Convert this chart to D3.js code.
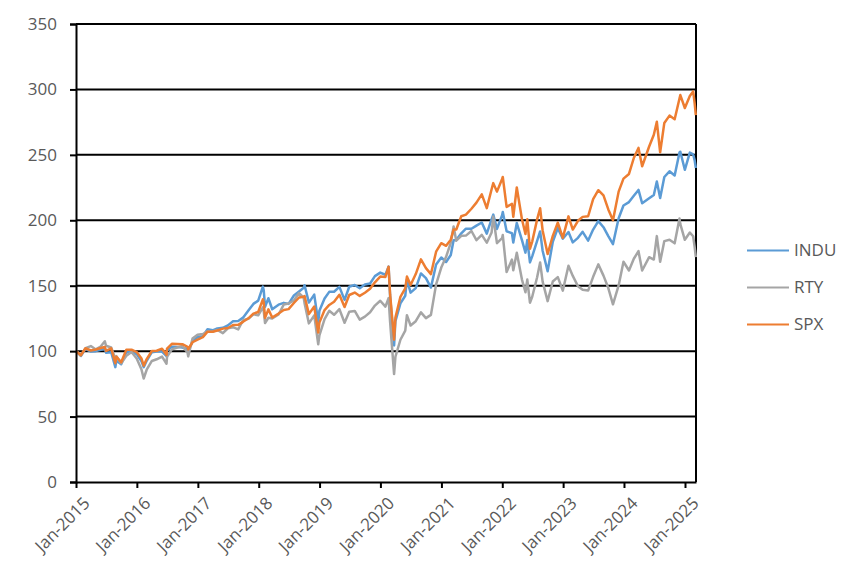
<!DOCTYPE html>
<html>
<head>
<meta charset="utf-8">
<script src="https://cdn.jsdelivr.net/npm/d3@7"></script>
<style>
  body { margin: 0; background: #fff; }
  text { font-family: "Open Sans", "Noto Sans", sans-serif; fill: #595959; }
</style>
</head>
<body>
<div id="chart"></div>
<script>
// observation dates (month ends plus a few turning points)
const dates = [
  "2015-01-02","2015-01-30","2015-02-27","2015-03-31","2015-04-30","2015-05-29","2015-06-23","2015-06-30",
  "2015-07-31","2015-08-25","2015-08-31","2015-09-29","2015-10-30","2015-11-30","2015-12-31",
  "2016-01-29","2016-02-11","2016-02-29","2016-03-31","2016-04-29","2016-05-31","2016-06-27","2016-06-30",
  "2016-07-29","2016-08-31","2016-09-30","2016-10-31","2016-11-04","2016-11-30","2016-12-30",
  "2017-01-31","2017-02-28","2017-03-31","2017-04-28","2017-05-31","2017-06-30","2017-07-31","2017-08-31",
  "2017-09-29","2017-10-31","2017-11-30","2017-12-29",
  "2018-01-26","2018-01-31","2018-02-08","2018-02-28","2018-03-23","2018-04-30","2018-05-31","2018-06-29",
  "2018-07-31","2018-08-31","2018-09-28","2018-10-03","2018-10-29","2018-11-30","2018-12-24","2018-12-31",
  "2019-01-31","2019-02-28","2019-03-29","2019-04-30","2019-05-31","2019-06-28","2019-07-31","2019-08-30",
  "2019-09-30","2019-10-31","2019-11-29","2019-12-31",
  "2020-01-31","2020-02-19","2020-02-28","2020-03-23","2020-03-31","2020-04-30","2020-05-29","2020-06-08",
  "2020-06-30","2020-07-31","2020-08-31","2020-09-30","2020-10-30","2020-11-30","2020-12-31",
  "2021-01-29","2021-02-26","2021-03-15","2021-03-31","2021-04-30","2021-05-28","2021-06-30","2021-07-30",
  "2021-08-31","2021-09-30","2021-10-29","2021-11-08","2021-11-30","2021-12-31",
  "2022-01-04","2022-01-27","2022-02-28","2022-03-08","2022-03-29","2022-04-29","2022-05-20","2022-05-31",
  "2022-06-16","2022-06-30","2022-07-29","2022-08-16","2022-08-31","2022-09-30","2022-10-31","2022-11-30",
  "2022-12-30",
  "2023-02-02","2023-02-28","2023-03-31","2023-04-28","2023-05-31","2023-06-30","2023-07-31","2023-08-31",
  "2023-09-29","2023-10-27","2023-11-30","2023-12-29",
  "2024-01-31","2024-02-29","2024-03-28","2024-04-19","2024-05-31","2024-06-28","2024-07-16","2024-08-05",
  "2024-08-30","2024-09-30","2024-10-31","2024-11-29","2024-12-04","2024-12-31",
  "2025-01-30","2025-02-19","2025-02-28","2025-03-07"
];

const indu = [
  100,96.3,101.7,99.7,100.0,101.0,101.7,98.8,
  99.2,87.8,92.7,90.0,99.1,99.4,97.7,
  92.3,87.8,92.6,99.2,99.7,99.7,96.1,100.5,
  103.4,103.2,102.7,101.7,100.3,107.2,110.8,
  111.4,116.7,115.9,117.4,117.8,119.7,122.8,123.1,
  125.6,131.1,136.1,138.6,
  149.3,146.6,133.8,140.4,132.0,135.5,136.9,136.1,
  142.5,145.6,148.4,150.4,137.1,143.2,122.2,130.8,
  140.2,145.3,145.4,149.1,139.2,149.2,150.6,148.1,
  150.9,151.7,157.3,160.0,
  158.4,164.6,142.5,104.3,122.9,136.5,142.3,154.6,
  144.7,148.2,159.4,155.8,148.6,166.2,171.6,
  168.1,173.5,184.8,184.9,190.0,193.6,193.5,195.9,
  198.3,189.8,200.9,204.3,193.4,203.8,
  206.4,191.6,190.1,183.0,197.9,184.9,175.3,185.0,
  167.8,172.6,184.2,191.5,176.7,161.1,183.6,194.0,
  185.9,
  191.0,183.1,186.6,191.2,184.5,192.9,199.4,194.7,
  187.9,181.8,201.6,211.3,
  213.9,218.7,223.2,213.0,216.9,219.4,229.7,217.0,
  233.1,237.4,234.2,251.8,252.4,238.6,
  251.7,250.3,245.8,240.0
];

const rty = [
  100,96.7,102.3,103.9,101.3,103.5,107.5,104.1,
  102.8,94.2,96.2,90.7,96.4,99.4,94.3,
  85.9,79.1,85.8,92.5,93.8,95.8,90.4,95.6,
  101.3,102.8,103.9,98.9,96.0,109.7,112.6,
  113.1,115.1,115.0,116.2,113.7,117.5,118.3,116.6,
  123.7,124.7,128.2,127.4,
  133.5,130.7,121.5,125.5,124.9,128.0,135.6,136.4,
  138.7,144.4,140.8,136.7,121.2,127.3,105.2,112.0,
  124.5,130.8,127.8,132.1,121.7,130.1,130.7,124.1,
  126.4,129.7,134.8,138.5,
  134.0,140.5,122.5,82.5,95.7,108.7,115.7,127.5,
  119.6,122.9,129.6,125.2,127.7,151.0,163.9,
  172.1,182.7,195.2,184.4,188.1,188.3,191.8,184.8,
  188.8,182.9,190.7,202.8,182.5,186.4,
  188.7,160.4,170.0,161.8,175.2,154.7,145.0,154.7,
  137.0,141.8,156.5,167.8,153.1,138.2,153.2,156.6,
  146.2,
  165.2,157.5,149.6,146.9,146.3,156.8,166.3,157.7,
  148.2,135.8,150.2,168.3,
  161.6,170.6,176.4,161.6,171.8,170.0,187.9,168.3,
  184.1,185.1,182.4,201.3,197.1,185.1,
  190.6,187.8,179.5,171.9
];

const spx = [
  100,96.9,102.2,100.5,101.3,102.4,103.2,100.2,
  102.2,90.8,95.8,91.5,101.0,101.1,99.3,
  94.3,88.9,93.9,100.1,100.3,101.9,97.2,102.0,
  105.6,105.5,105.3,103.3,101.3,106.8,108.8,
  110.7,114.9,114.8,115.8,117.2,117.7,120.0,120.1,
  122.4,125.1,128.7,129.9,
  139.6,137.2,125.4,131.9,125.7,128.7,131.4,132.1,
  136.8,141.0,141.6,142.1,128.3,134.1,114.2,121.8,
  131.4,135.3,137.7,143.1,133.7,142.9,144.8,142.2,
  144.6,147.6,152.6,157.0,
  156.7,164.5,143.5,108.7,125.6,141.5,147.9,157.0,
  150.6,158.9,170.1,163.4,158.9,176.0,182.5,
  180.5,185.2,192.9,193.0,203.1,204.3,208.8,213.5,
  219.8,209.3,223.7,228.4,221.9,231.6,
  233.1,210.2,212.5,202.7,225.1,200.8,189.5,200.8,
  178.2,183.9,200.7,209.2,192.2,174.2,188.1,198.2,
  186.6,
  203.0,192.9,199.6,202.6,203.1,216.2,223.0,219.0,
  208.3,200.0,221.9,231.8,
  235.4,247.6,255.3,241.3,256.4,265.3,275.3,252.0,
  274.4,280.0,277.2,293.1,295.7,285.8,
  295.0,298.5,289.3,280.3
];

const seriesNames = ["INDU", "RTY", "SPX"];
const seriesColors = ["#5B9BD5", "#A5A5A5", "#ED7D31"];
const yTicks = [0, 50, 100, 150, 200, 250, 300, 350];
const xTickYears = [2015, 2016, 2017, 2018, 2019, 2020, 2021, 2022, 2023, 2024, 2025];

const totalWidth = 859, totalHeight = 578;
const margins = { left: 76, right: 163, top: 24, bottom: 96 };
const width = totalWidth - margins.left - margins.right;
const height = totalHeight - margins.top - margins.bottom;
const fontSize = "17px";

const parse = d3.timeParse("%Y-%m-%d");
const dateObjs = dates.map(parse);
const seriesValues = [indu, rty, spx];

const svg = d3.select("#chart").append("svg")
  .attr("width", totalWidth)
  .attr("height", totalHeight)
  .append("g")
  .attr("transform", `translate(${margins.left},${margins.top})`);

const x = d3.scaleTime()
  .domain([new Date(2015, 0, 1), new Date(2025, 2, 8)])
  .range([0, width]);
const y = d3.scaleLinear().domain([0, 350]).range([height, 0]);

// gridlines
svg.append("g")
  .selectAll("line")
  .data(yTicks.filter(t => t > 0))
  .join("line")
  .attr("x1", 0).attr("x2", width)
  .attr("y1", d => y(d)).attr("y2", d => y(d))
  .attr("stroke", "#000")
  .attr("stroke-width", 2);

// right border of the plot area
svg.append("line")
  .attr("x1", width).attr("x2", width)
  .attr("y1", 0).attr("y2", height)
  .attr("stroke", "#000").attr("stroke-width", 2);

// lines
const line = d3.line()
  .x((d, i) => x(dateObjs[i]))
  .y(d => y(d));
seriesValues.forEach((vals, k) => {
  svg.append("path")
    .datum(vals)
    .attr("fill", "none")
    .attr("stroke", seriesColors[k])
    .attr("stroke-width", 2.5)
    .attr("stroke-linejoin", "round")
    .attr("d", line);
});

// Y axis
const yAxisG = svg.append("g")
  .call(d3.axisLeft(y).tickValues(yTicks).tickSize(6).tickPadding(13));
yAxisG.select(".domain").attr("stroke", "#000").attr("stroke-width", 2);
yAxisG.selectAll(".tick line").attr("stroke", "#000").attr("stroke-width", 2);
yAxisG.selectAll("text").attr("font-size", fontSize).style("fill", "#595959")
  .style("font-family", "'Open Sans', sans-serif");

// X axis
const xAxisG = svg.append("g")
  .attr("transform", `translate(0,${height})`)
  .call(d3.axisBottom(x)
    .tickValues(xTickYears.map(yr => new Date(yr, 0, 1)))
    .tickSize(6)
    .tickSizeOuter(0)
    .tickFormat(d3.timeFormat("Jan-%Y")));
xAxisG.select(".domain").attr("stroke", "#000").attr("stroke-width", 2);
xAxisG.selectAll(".tick line").attr("stroke", "#000").attr("stroke-width", 2);
xAxisG.selectAll("text")
  .attr("font-size", fontSize)
  .style("fill", "#595959")
  .style("font-family", "'Open Sans', sans-serif")
  .style("text-anchor", "end")
  .attr("dx", 0).attr("dy", 0)
  .attr("transform", "translate(8,16) rotate(-45)");

// legend
const legend = svg.append("g")
  .attr("transform", `translate(${width + 51},0)`);
seriesNames.forEach((name, k) => {
  const ly = y(177) + k * 37;
  legend.append("line")
    .attr("x1", 0).attr("x2", 42)
    .attr("y1", ly).attr("y2", ly)
    .attr("stroke", seriesColors[k])
    .attr("stroke-width", 2);
  legend.append("text")
    .attr("x", 47).attr("y", ly)
    .attr("dy", "0.35em")
    .attr("font-size", fontSize)
    .text(name);
});
</script>
</body>
</html>
